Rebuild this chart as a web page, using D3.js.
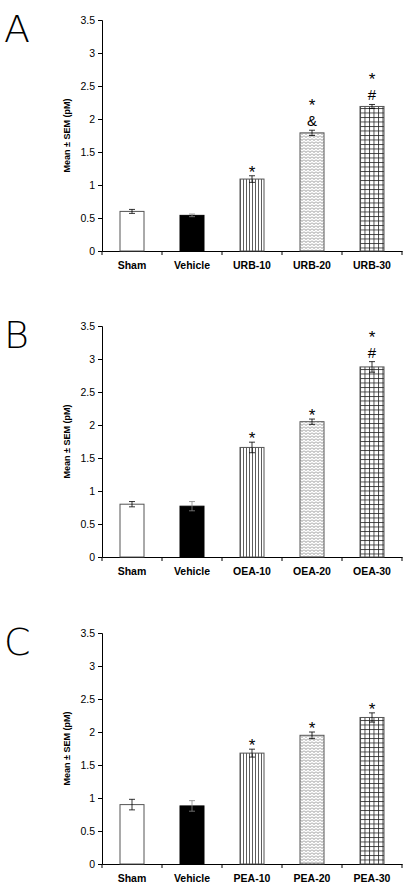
<!DOCTYPE html>
<html><head><meta charset="utf-8">
<script src="https://cdn.jsdelivr.net/npm/d3@7"></script>
<style>body{margin:0;background:#fff}svg{font-family:"Liberation Sans",Arial,sans-serif}</style>
</head><body><svg id="c" width="409" height="888"></svg>
<script>
const panels = ['A','B','C'];
const categories = [
  ['Sham','Vehicle','URB-10','URB-20','URB-30'],
  ['Sham','Vehicle','OEA-10','OEA-20','OEA-30'],
  ['Sham','Vehicle','PEA-10','PEA-20','PEA-30']
];
const means = [
  [0.60,0.54,1.09,1.79,2.19],
  [0.80,0.77,1.66,2.05,2.88],
  [0.90,0.88,1.68,1.95,2.22]
];
const sems = [
  [0.03,0.02,0.05,0.04,0.03],
  [0.04,0.07,0.08,0.04,0.08],
  [0.08,0.08,0.06,0.05,0.07]
];
const marks = [
  [[],[],['*'],['*','&'],['*','#']],
  [[],[],['*'],['*'],['*','#']],
  [[],[],['*'],['*'],['*']]
];
const yTicks = [0,0.5,1,1.5,2,2.5,3,3.5];
const fills = ['#fff','#000','url(#pv)','url(#pz)','url(#pg)'];

const svg = d3.select('#c');
const defs = svg.append('defs');
const pv = defs.append('pattern').attr('id','pv').attr('patternUnits','userSpaceOnUse').attr('width',3).attr('height',3);
pv.append('rect').attr('width',3).attr('height',3).attr('fill','#fff');
pv.append('line').attr('x1',0.5).attr('x2',0.5).attr('y1',0).attr('y2',3).attr('stroke','#333').attr('stroke-width',0.8);
const pz = defs.append('pattern').attr('id','pz').attr('patternUnits','userSpaceOnUse').attr('width',4).attr('height',3);
pz.append('rect').attr('width',4).attr('height',3).attr('fill','#fff');
pz.append('path').attr('d','M0,0.5 L2,2.5 L4,0.5').attr('fill','none').attr('stroke','#777').attr('stroke-width',0.8);
const pg = defs.append('pattern').attr('id','pg').attr('patternUnits','userSpaceOnUse').attr('width',4.5).attr('height',4.5);
pg.append('rect').attr('width',4.5).attr('height',4.5).attr('fill','#fff');
pg.append('path').attr('d','M0.5,0 V4.5 M0,0.5 H4.5').attr('stroke','#222').attr('stroke-width',0.8);

const left = 102, right = 402, tops = [20,326,633], ph = 231;
const x = d3.scaleBand().range([left,right]);

panels.forEach((p,i)=>{
  const t = tops[i];
  const y = d3.scaleLinear().domain([0,3.5]).range([t+ph,t]);
  x.domain(categories[i]);
  const g = svg.append('g');
  g.append('text').attr('x',4).attr('y',t+22).attr('font-size',38).attr('font-family','"DejaVu Sans",sans-serif').attr('font-weight',300).text(p);
  const ya = g.append('g').attr('transform',`translate(${left},0)`)
    .call(d3.axisLeft(y).tickValues(yTicks).tickSize(4).tickFormat(d=>d));
  ya.selectAll('text').attr('font-size',10.5).attr('fill','#000').style('font-family','"Liberation Sans",Arial');
  const xa = g.append('g').attr('transform',`translate(0,${t+ph})`)
    .call(d3.axisBottom(x).tickSize(0).tickFormat(''));
  xa.selectAll('.tick').remove();
  const bx = d3.range(categories[i].length+1).map(k=>left+k*x.step());
  g.selectAll('.xt').data(bx).join('line').attr('x1',d=>d).attr('x2',d=>d)
    .attr('y1',t+ph).attr('y2',t+ph+4).attr('stroke','#000');
  g.selectAll('.xl').data(categories[i]).join('text')
    .attr('x',d=>x(d)+x.bandwidth()/2).attr('y',t+ph+18).attr('text-anchor','middle')
    .attr('font-size',10.5).attr('font-weight','bold').text(d=>d);
  g.append('text').attr('transform',`translate(${left-32},${t+ph/2}) rotate(-90)`)
    .attr('text-anchor','middle').attr('font-size',9).attr('font-weight','bold').text('Mean ± SEM (pM)');
  const bw = 24;
  categories[i].forEach((c,k)=>{
    const cx = x(c)+x.bandwidth()/2, v = means[i][k], s = sems[i][k];
    g.append('rect').attr('x',cx-bw/2).attr('y',y(v)).attr('width',bw).attr('height',y(0)-y(v))
      .attr('fill',fills[k]).attr('stroke',k===1?'#000':'#555').attr('stroke-width',1);
    g.append('path').attr('d',`M${cx},${y(v+s)}V${y(v-s)}M${cx-3},${y(v+s)}H${cx+3}M${cx-3},${y(v-s)}H${cx+3}`)
      .attr('stroke',k===1?'#888':'#000').attr('stroke-width',0.8).attr('fill','none');
    const m = marks[i][k];
    m.slice().reverse().forEach((s2,j)=>{
      g.append('text').attr('x',cx).attr('y',y(v+s)-4-j*21+(s2==='*'?6:0)).attr('text-anchor','middle')
        .attr('font-size',s2==='*'?17:15).text(s2);
    });
  });
});
</script></body></html>
